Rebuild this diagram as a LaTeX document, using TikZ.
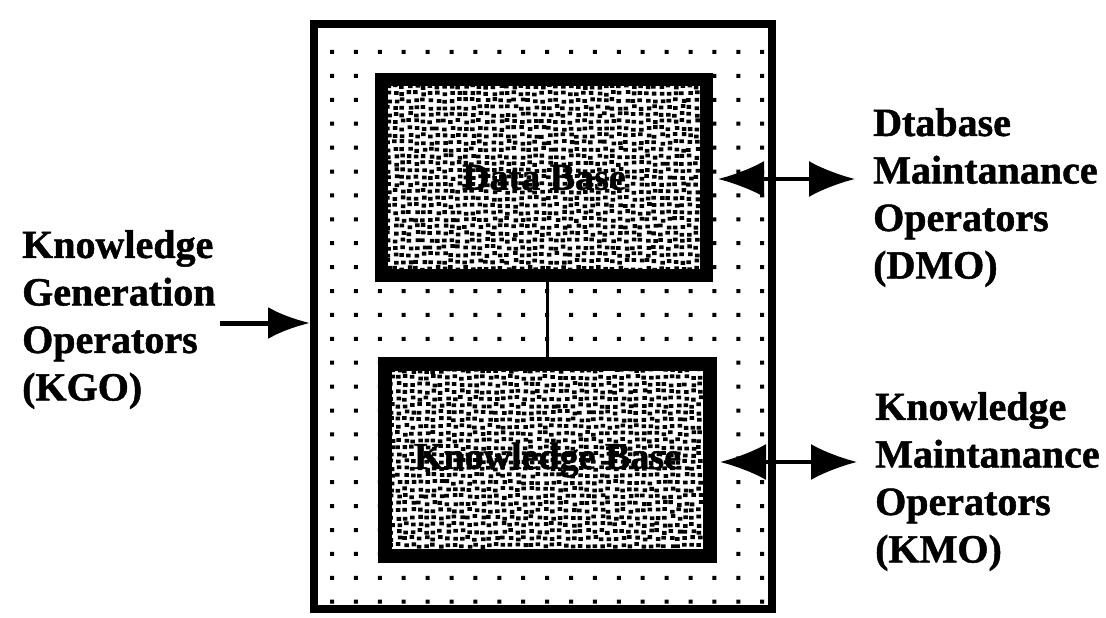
\documentclass[tikz,border=0pt]{standalone}
\usepackage{fontspec}
\setmainfont[BoldFeatures={FakeBold=1.2}]{Liberation Serif}
\usetikzlibrary{arrows.meta,calc}
\pgfdeclarelayer{bg}
\pgfsetlayers{bg,main}
\begin{document}
\pgfmathsetseed{7}
\begin{tikzpicture}[x=1pt,y=-1pt,
  lbl/.style={font=\bfseries\fontsize{40}{47.5}\selectfont, align=left, anchor=north west, inner sep=0pt},
  boxtxt/.style={font=\bfseries\fontsize{38}{44}\selectfont},
  store/.style={draw, inner sep=0pt, minimum width=325pt},
  frame/.style={draw, line width=8pt, inner sep=0pt},
  onearrow/.style={line width=5pt, -{Latex[length=42pt,width=32pt]}},
  twoarrow/.style={line width=3.5pt, {Latex[length=46pt,width=36pt]}-{Latex[length=46pt,width=36pt]}},
  link/.style={line width=3pt}
]
\useasboundingbox (0,0) rectangle (1106,618);
% outer frame
\node[frame, minimum width=458pt, minimum height=585pt] (outer) at (543,316.5) {};
% inner stores
\node[store, line width=13pt, minimum height=196pt, boxtxt] (db) at (544,177.5) {Data Base};
\node[store, line width=14pt, minimum height=192pt, boxtxt] (kb) at (547.5,460) {Knowledge Base};
\begin{pgfonlayer}{bg}
  % dot grid
  \fill foreach \i in {0,...,18} { foreach \j in {0,...,23} { ({330+23.9*\i},{50+23.9*\j}) rectangle ++(4,4) } };
  % white interiors
  \fill[white] (381.5,79.5) rectangle (706.5,275.5);
  \fill[white] (385,364) rectangle (710,556);
  % stipple in data base
  \begin{scope}
    \clip (381.5,79.5) rectangle (706.5,275.5);
    \fill foreach \sx in {378,385,...,712} { foreach \sy in {76,83,...,280} {
      ({\sx+3*rnd},{\sy+3*rnd}) rectangle ++(4.5,3.8) } };
  \end{scope}
  % stipple in knowledge base
  \begin{scope}
    \clip (385,364) rectangle (710,556);
    \fill foreach \sx in {381,388,...,715} { foreach \sy in {360,367,...,562} {
      ({\sx+3*rnd},{\sy+3*rnd}) rectangle ++(4.5,3.8) } };
  \end{scope}
\end{pgfonlayer}
\draw[link] (kb.north |- db.south) -- (kb.north);
% labels
\node[lbl] (kgo) at (22,230) {Knowledge\\Generation\\Operators\\(KGO)};
\node[lbl] (dmo) at (873,108) {Dtabase\\Maintanance\\Operators\\(DMO)};
\node[lbl] (kmo) at (875,392) {Knowledge\\Maintanance\\Operators\\(KMO)};
% arrows
\coordinate (kgoS) at (220,323);
\coordinate (dmoE) at (855,179);
\coordinate (kmoE) at (857,462);
\draw[onearrow] (kgoS) -- (outer.west |- kgoS);
\draw[twoarrow, shorten <=5pt] (db.east |- dmoE) -- (dmoE);
\draw[twoarrow, shorten <=3pt] (kb.east |- kmoE) -- (kmoE);
\end{tikzpicture}
\end{document}
